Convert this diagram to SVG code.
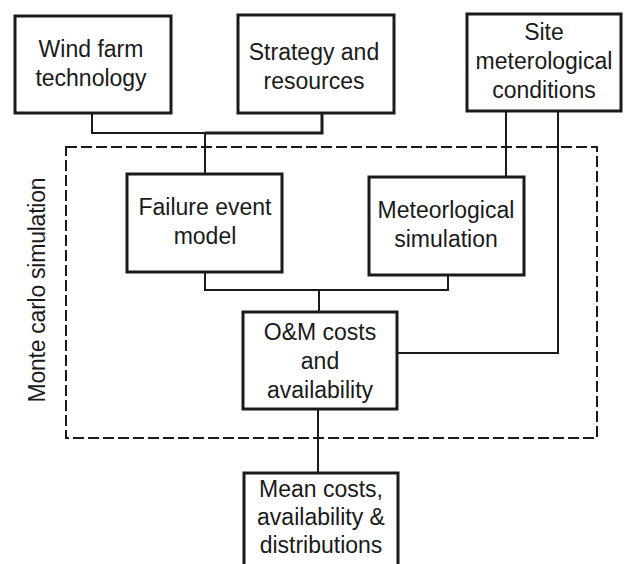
<svg xmlns="http://www.w3.org/2000/svg" width="627" height="564" viewBox="0 0 627 564">
<style>
.box{fill:#fff;stroke:#1a1a1a;stroke-width:3}
.t{font-family:"Liberation Sans",Arial,sans-serif;font-size:23px;fill:#1a1a1a;text-anchor:middle}
.c{fill:none;stroke:#1a1a1a;stroke-width:2}
.ct{fill:none;stroke:#1a1a1a;stroke-width:3}
.dash{fill:none;stroke:#1a1a1a;stroke-width:2;stroke-dasharray:11 4}
</style>
<rect width="627" height="564" fill="#fff"/>
<rect id="monte-carlo-boundary" class="dash" x="66" y="147" width="531" height="291"/>
<text class="t" transform="translate(45,290) rotate(-90)" textLength="225" lengthAdjust="spacing">Monte carlo simulation</text>
<g id="connectors">
<polyline class="c" points="92,113 92,133 205,133"/>
<polyline class="ct" points="205,133 322,133 322,113"/>
<line class="c" x1="205" y1="133" x2="205" y2="174"/>
<line class="c" x1="506" y1="111" x2="506" y2="177"/>
<polyline class="c" points="558,111 558,353 397,353"/>
<polyline class="c" points="205,272 205,290 448,290 448,275"/>
<line class="c" x1="319" y1="290" x2="319" y2="312"/>
<line class="c" x1="318" y1="409" x2="318" y2="473"/>
</g>
<g id="wind-farm">
<rect class="box" x="15" y="16" width="156" height="97"/>
<text class="t" x="91" y="57">Wind farm</text>
<text class="t" x="91" y="86">technology</text>
</g>
<g id="strategy">
<rect class="box" x="238" y="15" width="156" height="98"/>
<text class="t" x="314" y="60">Strategy and</text>
<text class="t" x="314" y="89">resources</text>
</g>
<g id="site">
<rect class="box" x="467" y="14" width="154" height="97"/>
<text class="t" x="544" y="40">Site</text>
<text class="t" x="544" y="69">meterological</text>
<text class="t" x="544" y="98">conditions</text>
</g>
<g id="failure">
<rect class="box" x="127" y="174" width="155" height="98"/>
<text class="t" x="205" y="215">Failure event</text>
<text class="t" x="205" y="244">model</text>
</g>
<g id="meteo">
<rect class="box" x="369" y="177" width="155" height="98"/>
<text class="t" x="446" y="218">Meteorlogical</text>
<text class="t" x="446" y="247">simulation</text>
</g>
<g id="om">
<rect class="box" x="243" y="312" width="154" height="97"/>
<text class="t" x="320" y="340">O&amp;M costs</text>
<text class="t" x="320" y="369">and</text>
<text class="t" x="320" y="398">availability</text>
</g>
<g id="mean">
<rect class="box" x="244" y="473" width="154" height="100"/>
<text class="t" x="321" y="497">Mean costs,</text>
<text class="t" x="321" y="525">availability &amp;</text>
<text class="t" x="321" y="553">distributions</text>
</g>
</svg>
